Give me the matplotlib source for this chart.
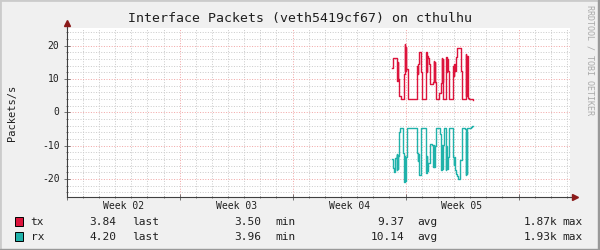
import matplotlib

matplotlib.use("Agg")
import matplotlib.pyplot as plt
import numpy as np
from matplotlib.patches import Rectangle
from matplotlib.transforms import blended_transform_factory

# time in days since the start of "Week 02"
TX_T = [20.13, 20.22, 20.44, 20.48, 20.51, 20.54, 20.58, 20.70, 20.91, 20.94,
        20.97, 21.00, 21.03, 21.17, 21.71, 21.74, 21.77, 21.83, 21.97, 22.01,
        22.28, 22.31, 22.34, 22.38, 22.46, 22.54, 22.69, 22.74, 22.77, 22.80,
        22.84, 22.89, 23.10, 23.20, 23.23, 23.26, 23.29, 23.34, 23.51, 23.55,
        23.57, 23.61, 23.71, 23.96, 23.99, 24.02, 24.06, 24.12, 24.18, 24.43,
        24.49, 24.74, 24.77, 24.80, 24.84, 24.92, 25.17]
TX_V = [13.4, 16.4, 13.0, 9.5, 15.0, 10.0, 4.8, 4.1, 11.6, 20.5,
        12.5, 19.5, 13.0, 4.1, 14.0, 11.6, 14.5, 18.2, 12.0, 4.1,
        18.0, 12.0, 17.0, 16.2, 14.6, 8.5, 9.0, 15.5, 9.0, 15.0,
        9.0, 3.9, 5.7, 8.7, 16.4, 9.0, 16.0, 3.9, 16.5, 12.0,
        16.0, 12.5, 3.9, 14.0, 11.0, 14.5, 12.5, 16.5, 19.2, 12.5,
        3.9, 17.5, 5.0, 17.0, 4.2, 3.9, 3.84]

RX_T = [20.13, 20.23, 20.29, 20.37, 20.44, 20.47, 20.50, 20.53, 20.56, 20.60,
        20.68, 20.85, 20.91, 20.94, 20.97, 21.00, 21.11, 21.71, 21.74, 21.77,
        21.83, 21.93, 22.28, 22.31, 22.34, 22.38, 22.52, 22.63, 22.68, 22.71,
        22.74, 22.78, 22.82, 22.88, 23.12, 23.22, 23.25, 23.28, 23.33, 23.39,
        23.50, 23.53, 23.56, 23.60, 23.70, 23.95, 23.98, 24.01, 24.06, 24.14,
        24.20, 24.26, 24.40, 24.52, 24.67, 24.73, 24.76, 24.79, 24.83, 25.00,
        25.06, 25.12, 25.17]
RX_V = [14.1, 16.8, 17.8, 13.8, 12.6, 17.3, 12.8, 17.0, 13.0, 5.9,
        4.6, 12.3, 21.0, 13.0, 20.5, 13.5, 4.6, 12.3, 14.6, 12.5,
        18.8, 4.6, 18.2, 13.0, 17.5, 15.3, 9.4, 9.9, 10.1, 16.3,
        9.9, 16.3, 10.0, 4.6, 6.4, 17.3, 9.9, 17.0, 9.9, 4.6,
        17.3, 10.0, 17.0, 13.3, 4.6, 13.3, 15.8, 13.5, 17.3, 18.5,
        19.0, 20.1, 14.3, 4.6, 5.0, 18.8, 6.0, 18.5, 4.8, 4.6,
        4.4, 4.1, 4.2]

WEEK_LABELS = ["Week 02", "Week 03", "Week 04", "Week 05"]
WEEK_STARTS = [0, 7, 14, 21, 28]

LEGEND = [
    ("tx", "#DC143C", ["3.84", "3.50", "9.37", "1.87k"]),
    ("rx", "#20B2AA", ["4.20", "3.96", "10.14", "1.93k"]),
]
STAT_NAMES = ["last", "min", "avg", "max"]

TITLE = "Interface Packets (veth5419cf67) on cthulhu"
MONO = "DejaVu Sans Mono"
W, H = 600, 250


def px(x, y):
    return x / W, 1 - y / H


def main():
    plt.rcParams["font.family"] = MONO
    fig = plt.figure(figsize=(W / 100, H / 100), dpi=100, facecolor="#f0f0f0")

    # 3d-ish frame of the rrdtool canvas
    fig.patches.append(Rectangle((0, 0), 1, 1, transform=fig.transFigure,
                                 fill=False, edgecolor="#cbcbcb", linewidth=2))
    fig.patches.append(Rectangle((0, 0), 1, 0.004, transform=fig.transFigure,
                                 color="#999999"))
    fig.patches.append(Rectangle((0.9967, 0), 0.0033, 1, transform=fig.transFigure,
                                 color="#999999"))

    left, top, right, bottom = 66.7, 28.3, 570, 196.7
    ax = fig.add_axes([left / W, 1 - bottom / H, (right - left) / W, (bottom - top) / H])
    ax.set_facecolor("white")
    ax.set_xlim(0.26, 31.19)
    ax.set_ylim(-25.3, 25.2)

    ax.set_xticks(WEEK_STARTS)
    ax.set_xticks(np.arange(1, 32), minor=True)
    ax.set_yticks([-20, -10, 0, 10, 20])
    ax.set_yticks(np.arange(-24, 25, 2), minor=True)
    ax.set_xticklabels([])
    ax.set_yticklabels([])
    ax.grid(True, which="minor", color="#cccccc", linewidth=0.72, linestyle=(0, (1, 1.6)))
    ax.grid(True, which="major", color="#f2a8a8", linewidth=0.72, linestyle=(0, (1, 1.6)))
    ax.set_axisbelow(True)
    ax.tick_params(which="both", direction="inout", color="#606060", width=0.6)
    ax.tick_params(which="major", length=4)
    ax.tick_params(which="minor", length=2)

    for s in ["top", "right"]:
        ax.spines[s].set_visible(False)
    for s in ["left", "bottom"]:
        ax.spines[s].set_color("#404040")
        ax.spines[s].set_linewidth(0.8)

    ax.step(TX_T, TX_V, where="post", color=LEGEND[0][1], linewidth=1.0)
    ax.step(RX_T, [-v for v in RX_V], where="post", color=LEGEND[1][1], linewidth=1.0)

    # axis arrows
    ax.plot([1.0, 1.01], [0, 0], transform=ax.transAxes, color="#404040",
            linewidth=0.8, clip_on=False)
    ax.plot([1.01], [0], marker=">", markersize=4, color="#8b1a1a",
            transform=ax.transAxes, clip_on=False)
    ax.plot([0, 0], [1.0, 1.03], transform=ax.transAxes, color="#404040",
            linewidth=0.8, clip_on=False)
    ax.plot([0], [1.03], marker="^", markersize=4, color="#8b1a1a",
            transform=ax.transAxes, clip_on=False)

    # tick labels
    ytrans = blended_transform_factory(fig.transFigure, ax.transData)
    for v in [-20, -10, 0, 10, 20]:
        fig.text(59.5 / W, v, str(v), transform=ytrans, ha="right", va="center",
                 fontsize=7, color="#202020")
    xtrans = blended_transform_factory(ax.transData, fig.transFigure)
    for i, lab in enumerate(WEEK_LABELS):
        mid = (WEEK_STARTS[i] + WEEK_STARTS[i + 1]) / 2
        fig.text(mid, 1 - 205.7 / H, lab, transform=xtrans, ha="center",
                 va="center", fontsize=7, color="#202020")

    fig.text(*px(300, 18.5), TITLE, ha="center", va="center", fontsize=9.5,
             color="#202020")
    fig.text(*px(12, 113), "Packets/s", ha="center", va="center", rotation=90,
             fontsize=7.5, color="#202020")
    fig.text(*px(590, 5), "RRDTOOL / TOBI OETIKER", ha="center", va="top",
             rotation=270, fontsize=6, color="#aaaaaa")

    num_right = [116, 261, 404, 557]
    name_left = [132, 275, 417, 562]
    for row, (name, color, vals) in enumerate(LEGEND):
        yc = 221.7 + row * 15
        fig.patches.append(Rectangle(px(15, yc + 4.5), 8.3 / W, 9 / H,
                                     transform=fig.transFigure, facecolor=color,
                                     edgecolor="black", linewidth=0.7))
        fig.text(*px(30.7, yc), name, ha="left", va="center", fontsize=8,
                 color="#202020")
        for x_num, x_name, val, stat in zip(num_right, name_left, vals, STAT_NAMES):
            fig.text(*px(x_num, yc), val, ha="right", va="center", fontsize=8,
                     color="#202020")
            fig.text(*px(x_name, yc), stat, ha="left", va="center", fontsize=8,
                     color="#202020")

    fig.savefig("out.png", dpi=100, facecolor=fig.get_facecolor())
    plt.close(fig)


if __name__ == "__main__":
    main()
